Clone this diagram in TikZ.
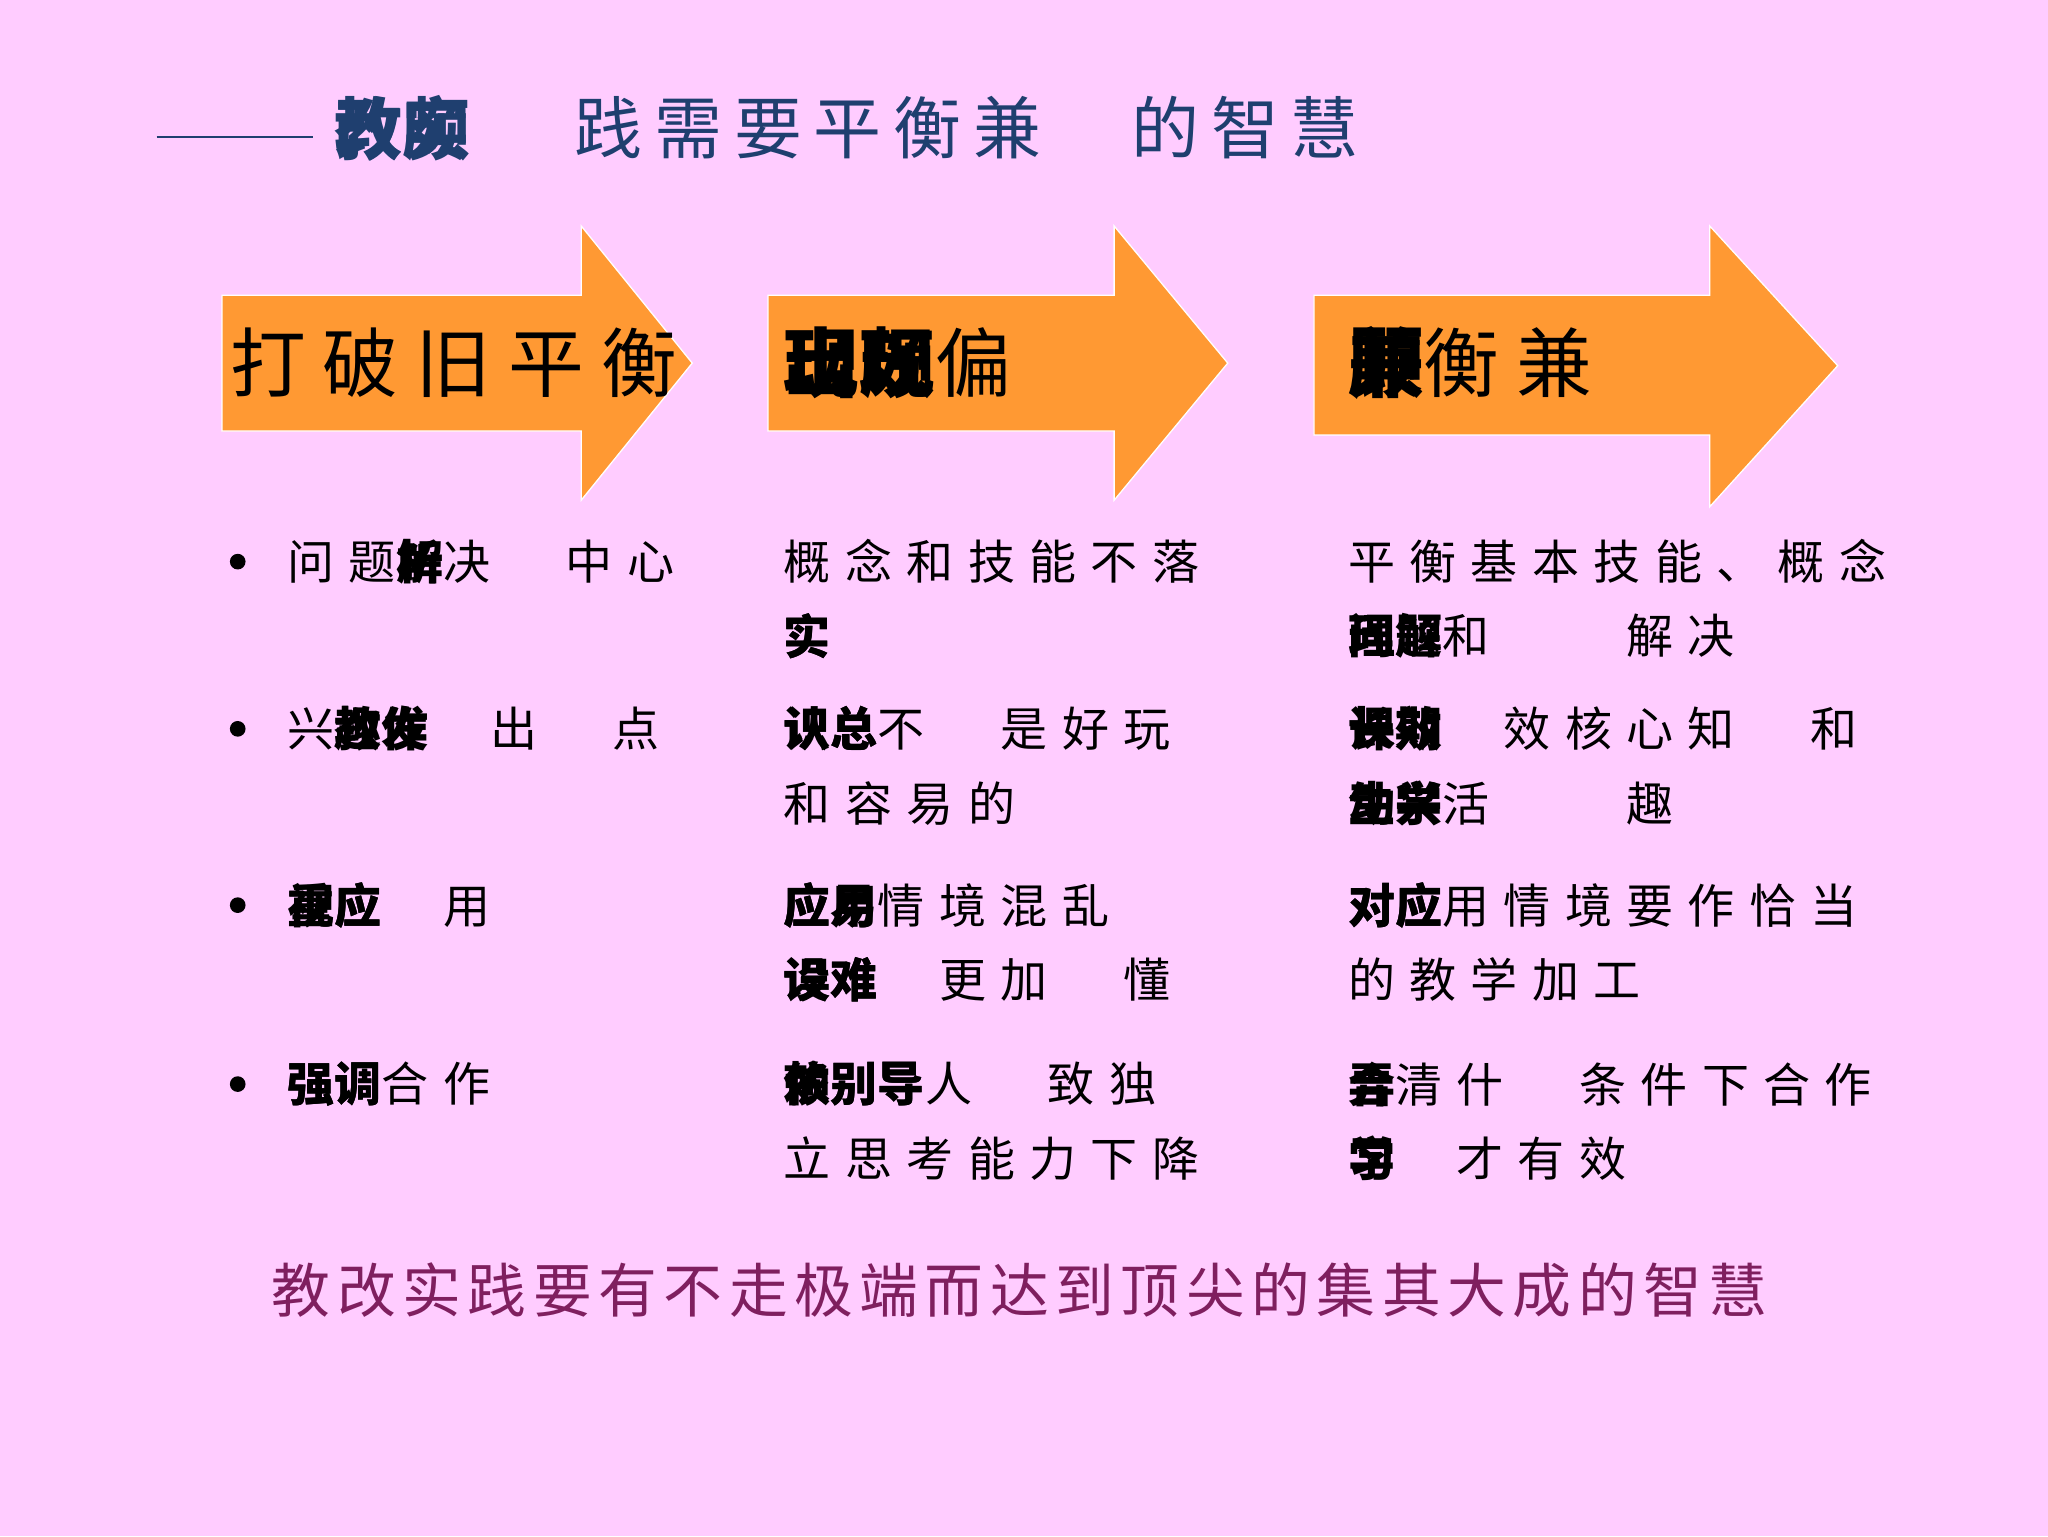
\documentclass[tikz,border=0pt]{standalone}
\usepackage{fontspec}
\newfontfamily\cjk{Noto Sans CJK SC}
\newlength\cjkgap
\XeTeXinterchartokenstate=1
\XeTeXinterchartoks 0 0={\hskip\cjkgap}
\newcommand\ov[2]{\rlap{\bfseries #1}{\bfseries #2}}
\definecolor{bg}{HTML}{FFCCFF}
\definecolor{org}{HTML}{FF9933}
\definecolor{ttl}{HTML}{1F3F6F}
\definecolor{btm}{HTML}{7F1F5F}
\tikzset{
 txt/.style={anchor=west,inner sep=0pt,font=\cjk\fontsize{36}{36}\selectfont\setlength\cjkgap{11pt}},
 big/.style={anchor=west,inner sep=0pt,font=\cjk\fontsize{58}{58}\selectfont\setlength\cjkgap{13pt}},
 arr/.style={fill=org,draw=white,line width=1pt}
}
\begin{document}
\begin{tikzpicture}[x=1pt,y=-1pt]
\fill[bg] (0,0) rectangle (1568,1176);
\useasboundingbox (0,0) rectangle (1568,1176);
% title
\draw[ttl,line width=1.2pt] (120,105) -- (240,105);
\node[anchor=west,inner sep=0pt,text=ttl,font=\cjk\fontsize{52}{52}\selectfont\setlength\cjkgap{9pt}] (t1) at (256,98) {\ov{教}{改}\ov{实}{颇}};
\node[anchor=west,inner sep=0pt,text=ttl,font=\cjk\fontsize{52}{52}\selectfont\setlength\cjkgap{9pt}] (t2) at (440,98) {践需要平衡兼};
\node[anchor=west,inner sep=0pt,text=ttl,font=\cjk\fontsize{52}{52}\selectfont\setlength\cjkgap{9pt}] (t3) at (866,98) {的智慧};
% arrows
\draw[arr] (170,226) -- (445,226) -- (445,173) -- (530,278) -- (445,383) -- (445,330) -- (170,330) -- cycle;
\draw[arr] (588,226) -- (853,226) -- (853,173) -- (940,278) -- (853,383) -- (853,330) -- (588,330) -- cycle;
\draw[arr] (1006,226) -- (1309,226) -- (1309,173) -- (1407,280) -- (1309,388) -- (1309,333) -- (1006,333) -- cycle;
\node[big] (a1) at (176,278) {打破旧平衡};
\node[big] (a2) at (600,278) {\ov{现}{出}\ov{颇}{现}偏};
\node[big] (a3) at (1032,278) {\ov{顾}{兼}衡兼};
% bullets
\foreach \y/\n in {430/b1,558/b2,693/b3,830/b4}
  \fill (182,\y) circle (6) coordinate (\n);
\node[txt] (c11) at (220,430) {问题\ov{解}{析}决　中心};
\node[txt] (c12) at (220,558) {兴\ov{趣}{教}\ov{发}{作}　出　点};
\node[txt] (c13) at (220,693) {\ov{视}{重}\ov{应}{应}　用};
\node[txt] (c14) at (220,830) {\ov{强}{强}\ov{调}{调}合作};
\node[txt] (c21) at (600,430) {概念和技能不落};
\node[txt] (c21b) at (600,487) {\ov{实}{实}};
\node[txt] (c22) at (600,558) {\ov{认}{识}\ov{总}{总}不　是好玩};
\node[txt] (c22b) at (600,615) {和容易的};
\node[txt] (c23) at (600,693) {\ov{应}{应}\ov{用}{易}情境混乱};
\node[txt] (c23b) at (600,750) {\ov{误}{设}\ov{难}{难}　更加　懂};
\node[txt] (c24) at (600,830) {\ov{依}{赖}\ov{别}{别}\ov{导}{导}人　致独};
\node[txt] (c24b) at (600,887) {立思考能力下降};
\node[txt] (c31) at (1032,430) {平衡基本技能、概念};
\node[txt] (c31b) at (1032,487) {\ov{问}{理}\ov{题}{解}和　　解决};
\node[txt] (c32) at (1032,558) {\ov{长}{课}\ov{期}{效}　效核心知　和};
\node[txt] (c32b) at (1032,615) {\ov{动}{生}\ov{兴}{学}活　　趣};
\node[txt] (c33) at (1032,693) {\ov{对}{对}\ov{应}{应}用情境要作恰当};
\node[txt] (c33b) at (1032,750) {的教学加工};
\node[txt] (c34) at (1032,830) {\ov{弄}{合}清什　条件下合作};
\node[txt] (c34b) at (1032,887) {\ov{学}{习}　才有效};
% bottom
\node[anchor=west,inner sep=0pt,text=btm,font=\cjk\fontsize{45}{45}\selectfont\setlength\cjkgap{5pt}] (bt) at (208,988) {教改实践要有不走极端而达到顶尖的集其大成的智慧};
\end{tikzpicture}
\end{document}
